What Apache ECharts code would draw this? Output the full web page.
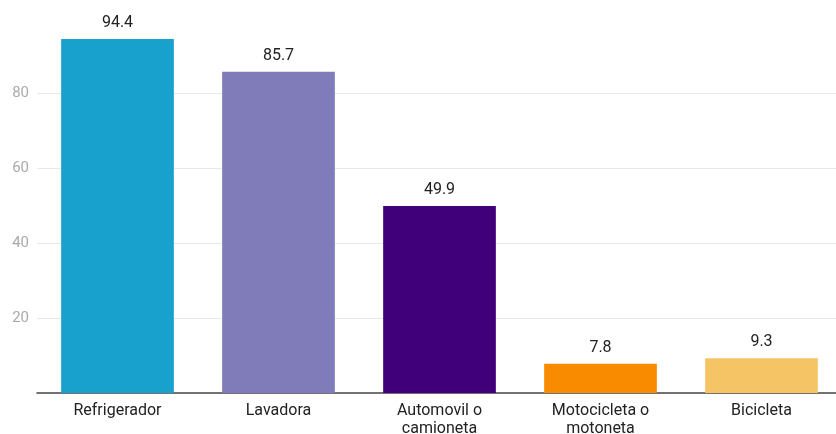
<!DOCTYPE html>
<html><head><meta charset="utf-8">
<script src="https://cdn.jsdelivr.net/npm/echarts@6/dist/echarts.min.js"></script>
<style>html,body{margin:0;padding:0;background:#fff}#c{width:836px;height:434px}</style>
</head><body><div id="c"></div>
<script>
const categories = ["Refrigerador", "Lavadora", "Automovil o\ncamioneta", "Motocicleta o\nmotoneta", "Bicicleta"];
const values = [94.4, 85.7, 49.9, 7.8, 9.3];
const colors = ["#19A1CD", "#807CB9", "#3F007A", "#F98B00", "#F5C465"];
const chart = echarts.init(document.getElementById('c'));
chart.setOption({
  animation: false,
  grid: {left: 37, width: 805, top: 18, bottom: 41, outerBoundsMode: 'none', containLabel: false},
  xAxis: {
    type: 'category', data: categories,
    axisTick: {show: false},
    axisLine: {lineStyle: {color: '#444', width: 1.5}},
    axisLabel: {color: '#222', fontSize: 16, fontFamily: 'Roboto', margin: 9, lineHeight: 18, interval: 0}
  },
  yAxis: {
    type: 'value', min: 0, max: 100, interval: 20,
    axisLabel: {color: '#aaa', fontSize: 15, fontFamily: 'Roboto', margin: 8, showMinLabel: false, showMaxLabel: false},
    splitLine: {lineStyle: {color: '#e8e8e8'}, showMaxLine: false, showMinLine: false},
    axisLine: {show: false}, axisTick: {show: false}
  },
  series: [{
    type: 'bar', barCategoryGap: '30%',
    data: values.map((v, i) => ({value: v, itemStyle: {color: colors[i]}})),
    label: {show: true, position: 'top', color: '#222', fontSize: 16, fontFamily: 'Roboto', distance: 8}
  }]
});
</script></body></html>
